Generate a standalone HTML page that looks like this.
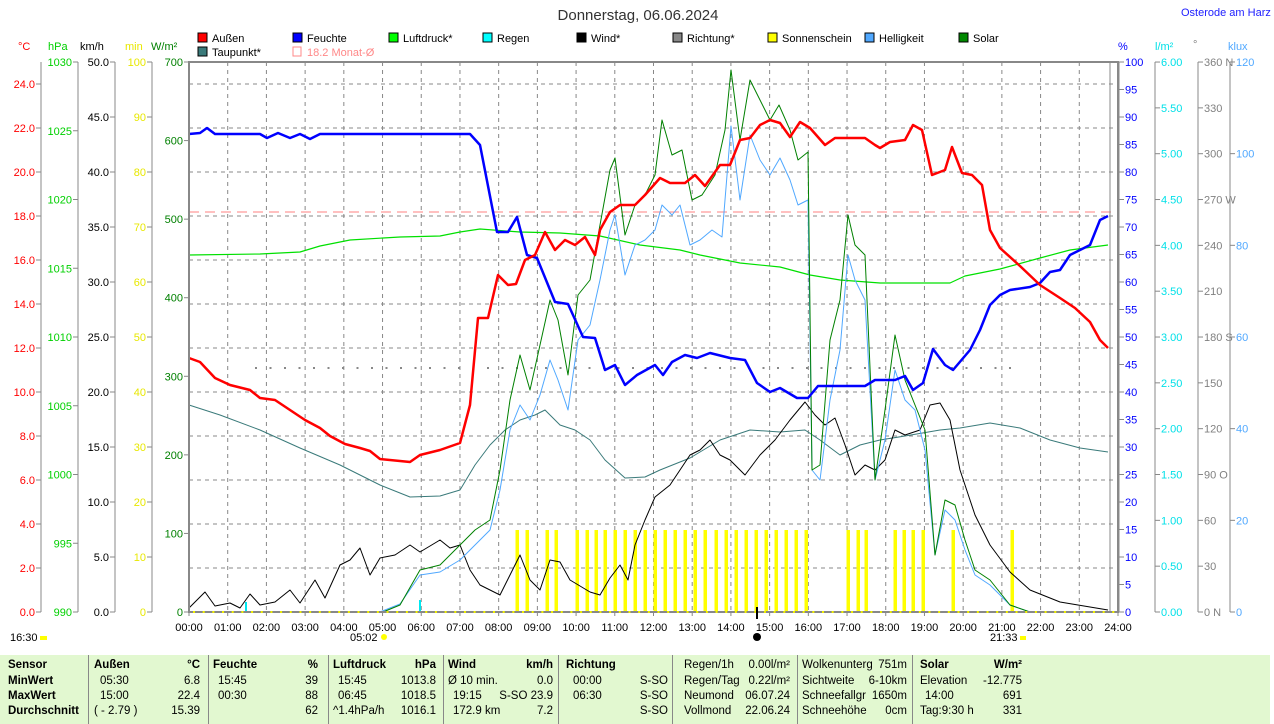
<!DOCTYPE html>
<html><head><meta charset="utf-8"><style>
body{margin:0;background:#fff;width:1274px;height:724px;overflow:hidden;font-family:"Liberation Sans",sans-serif}
svg{position:absolute;left:0;top:0}
text{font-family:"Liberation Sans",sans-serif;font-size:11px}
#tbl{position:absolute;left:0;top:655px;width:1270px;height:69px;background:#e2f8d0;font-size:11.5px}
#tbl div{position:absolute;white-space:nowrap}
.b{font-weight:bold}
.sep{position:absolute;top:0;width:1px;height:69px;background:#888}
</style></head><body>
<svg id="s" width="1274" height="655" xmlns="http://www.w3.org/2000/svg"></svg>
<div id="tbl"></div>
<script>
var s=document.getElementById('s'),h='';
function X(t){return 189+t*38.708}
function ln(a,b,c,d,col,w,da){h+='<line x1="'+a+'" y1="'+b+'" x2="'+c+'" y2="'+d+'" stroke="'+col+'" stroke-width="'+(w||1)+'"'+(da?' stroke-dasharray="'+da+'"':'')+'/>';}
function tx(x,y,t,col,anc,sz){h+='<text x="'+x+'" y="'+y+'" fill="'+col+'" text-anchor="'+(anc||'start')+'"'+(sz?' style="font-size:'+sz+'px"':'')+'>'+t+'</text>';}
function pl(p,col,w){h+='<polyline fill="none" stroke="'+col+'" stroke-width="'+w+'" stroke-linejoin="round" points="'+p.map(function(q){return q.join(',')}).join(' ')+'"/>';}
for(var i=1;i<24;i++)ln(X(i),62,X(i),612,'#888',1,'4,4');
for(var y=84;y<612;y+=44)ln(189,y,1118,y,'#888',1,'4,4');
ln(189,212,1118,212,'#ff8080',1,'10,6');
for(var x=255;x<1020;x+=14.5)h+='<rect x="'+x+'" y="367" width="2" height="2" fill="#888"/>';
[517,527,547,556,577,587,596,605,615,625,635,645,655,665,675,685,695,705,716,726,736,746,756,766,776,786,796,806,848,858,866,895,904,913,923,953,1012].forEach(function(x){h+='<rect x="'+(x-1.5)+'" y="530" width="3.5" height="82" fill="#ffff00"/>'});
h+='<rect x="245" y="602" width="2" height="10" fill="#00e8f0"/><rect x="419" y="600" width="2" height="12" fill="#00e8f0"/>';
pl([[189,255],[260,254],[300,252],[320,246],[350,240],[400,237],[440,236],[460,232],[480,229],[520,232],[560,233],[600,236],[640,245],[680,250],[700,255],[740,263],[780,267],[810,275],[840,280],[880,283],[950,283],[965,276],[1000,269],[1040,258],[1070,250],[1108,245]],'#00e000',1.2);
pl([[189,405],[220,415],[260,430],[300,448],[340,465],[380,485],[410,497],[440,496],[460,490],[475,465],[490,445],[505,430],[520,420],[535,415],[545,410],[560,425],[575,430],[590,440],[605,460],[625,478],[645,477],[660,470],[690,458],[720,440],[750,430],[780,432],[805,430],[820,440],[840,455],[860,445],[880,440],[905,436],[940,430],[960,428],[990,423],[1020,428],[1050,440],[1080,448],[1108,452]],'#3a7a7a',1);
pl([[189,608],[205,592],[215,606],[230,603],[240,608],[250,594],[260,605],[275,602],[290,590],[300,603],[315,580],[325,598],[340,565],[350,560],[360,548],[370,575],[380,558],[395,555],[410,545],[420,552],[440,540],[450,548],[460,545],[470,570],[480,585],[500,595],[510,575],[520,555],[530,580],[540,590],[550,560],[560,562],[570,580],[590,592],[600,595],[610,578],[620,565],[628,580],[635,545],[645,520],[655,497],[670,485],[680,470],[690,455],[700,450],[710,440],[720,455],[730,460],[745,475],[760,455],[775,440],[790,420],[805,402],[815,415],[825,425],[835,418],[845,445],[855,475],[865,465],[875,470],[885,460],[895,430],[905,435],[920,430],[930,405],[940,403],[950,420],[960,470],[975,515],[990,545],[1010,572],[1030,590],[1060,602],[1090,607],[1108,610]],'#000',1);
pl([[189,612],[380,612],[400,604],[420,575],[440,572],[460,560],[475,545],[490,530],[500,490],[510,430],[520,405],[530,420],[540,395],[550,360],[558,380],[568,410],[578,340],[590,325],[600,280],[610,230],[615,215],[625,275],[635,245],[645,240],[655,230],[662,205],[672,215],[680,205],[690,245],[700,240],[712,230],[722,237],[731,126],[740,200],[750,135],[760,160],[770,175],[780,158],[790,180],[798,205],[808,200],[812,470],[820,480],[830,400],[840,350],[848,255],[855,280],[865,300],[875,480],[885,440],[895,370],[905,400],[915,410],[925,450],[935,555],[945,510],[955,520],[965,550],[975,575],[990,585],[1010,605],[1030,612]],'#50a8ff',1);
pl([[189,612],[383,612],[400,605],[420,570],[440,565],[460,545],[475,530],[490,520],[500,470],[510,400],[520,355],[530,390],[540,345],[550,300],[558,320],[568,375],[578,295],[590,280],[600,225],[610,170],[615,158],[625,235],[635,205],[645,195],[655,175],[662,120],[672,155],[682,150],[692,200],[702,195],[715,175],[725,130],[731,70],[740,140],[750,80],[760,100],[770,120],[779,105],[790,130],[798,160],[808,152],[812,470],[820,465],[830,340],[840,300],[848,215],[855,245],[865,255],[875,480],[885,410],[895,335],[905,380],[915,405],[925,430],[935,555],[945,500],[955,505],[965,540],[975,570],[990,580],[1010,605],[1030,612]],'#008000',1);
pl([[189,134],[200,133],[207,128],[215,134],[260,134],[267,138],[278,133],[290,138],[300,134],[310,139],[320,134],[470,134],[480,145],[497,232],[508,232],[517,217],[527,255],[537,258],[555,302],[568,304],[583,337],[595,338],[605,370],[615,365],[625,385],[637,375],[655,365],[663,375],[672,362],[685,355],[697,358],[710,353],[730,358],[745,360],[757,383],[770,392],[780,388],[797,398],[808,398],[818,386],[865,386],[875,380],[895,380],[905,376],[913,390],[923,383],[933,349],[945,365],[953,370],[970,350],[980,330],[990,305],[1000,295],[1010,290],[1030,287],[1040,283],[1050,272],[1060,270],[1070,255],[1090,245],[1100,220],[1108,216]],'#0000ff',2.5);
pl([[189,358],[200,362],[215,378],[230,385],[250,390],[260,398],[275,400],[290,410],[305,420],[320,428],[330,436],[345,444],[360,448],[370,451],[380,459],[400,461],[410,462],[420,455],[440,450],[460,443],[470,405],[478,318],[488,318],[498,275],[508,285],[516,284],[525,260],[535,255],[545,232],[555,250],[565,240],[575,245],[585,237],[595,255],[600,230],[610,212],[620,205],[635,205],[645,195],[660,178],[670,183],[685,183],[695,175],[705,186],[720,165],[730,165],[740,140],[750,138],[760,125],[770,120],[780,123],[790,137],[800,122],[810,128],[825,145],[835,138],[865,138],[875,145],[880,148],[890,142],[905,140],[913,125],[922,130],[932,175],[945,170],[952,147],[962,173],[972,175],[982,185],[990,230],[1000,248],[1020,266],[1040,285],[1060,298],[1075,308],[1090,322],[1100,340],[1108,348]],'#ff0000',2.5);
h+='<rect x="189" y="62" width="929" height="550" fill="none" stroke="#888" stroke-width="2"/>';
ln(1110,62,1110,612,'#888',1);
for(i=0;i<=24;i++){var lb=(i<10?'0':'')+i+':00';tx(X(i),631,lb,'#000','middle');ln(X(i),612,X(i),616,'#888');}
for(i=0;i<96;i++)h+='<rect x="'+(X(i/4)+4)+'" y="611" width="2" height="2" fill="#ee0"/>';
tx(10,641,'16:30','#000');h+='<rect x="40" y="636" width="7" height="4" fill="#ff0"/>';
tx(350,641,'05:02','#000');h+='<circle cx="384" cy="637" r="3" fill="#ff0"/>';
tx(990,641,'21:33','#000');h+='<rect x="1020" y="636" width="6" height="4" fill="#ff0"/>';
h+='<circle cx="757" cy="637" r="4" fill="#000"/><rect x="756" y="607" width="2" height="12" fill="#000"/>';
function axL(lx,n,step,lab,col){ln(lx,62,lx,612,'#888');for(var k=0;k<=n;k++){var yy=612-k*step;if(yy<62)break;ln(lx-5,yy,lx,yy,'#888');tx(lx-6,yy+4,lab(k),col,'end');}}
axL(41,12,44,function(k){return (k*2).toFixed(1)},'#ff0000');
axL(78,8,68.75,function(k){return 990+k*5},'#00d000');
axL(115,10,55,function(k){return (k*5).toFixed(1)},'#000');
axL(152,10,55,function(k){return k*10},'#e8e800');
for(k=0;k<=7;k++){var yy=612-k*78.57;ln(184,yy,189,yy,'#888');tx(183,yy+4,k*100,'#008000','end');}
tx(18,50,'°C','#ff0000');tx(48,50,'hPa','#00d000');tx(80,50,'km/h','#000');tx(125,50,'min','#e8e800');tx(151,50,'W/m²','#008000');
function axR(lx,n,step,lab,col){ln(lx,62,lx,612,'#888');for(var k=0;k<=n;k++){var yy=612-k*step;ln(lx,yy,lx+5,yy,'#888');tx(lx+6,yy+4,lab(k),col);}}
axR(1119,20,27.5,function(k){return k*5},'#0000ff');
axR(1155,12,45.83,function(k){return (k*0.5).toFixed(2)},'#00e0e8');
var dd={0:'0 N',3:'90 O',6:'180 S',9:'270 W',12:'360 N'};
axR(1198,12,45.83,function(k){return dd[k]||k*30},'#808080');
axR(1230,6,91.67,function(k){return k*20},'#50a8ff');
tx(1118,50,'%','#0000ff');tx(1155,50,'l/m²','#00e0e8');tx(1193,48,'°','#808080');tx(1228,50,'klux','#50a8ff');
tx(638,20,'Donnerstag, 06.06.2024','#333','middle',15);
tx(1181,16,'Osterode am Harz','#2020ff');
var L=[[198,'#f00','Außen'],[293,'#00f','Feuchte'],[389,'#0f0','Luftdruck*'],[483,'#0ff','Regen'],[577,'#000','Wind*'],[673,'#888','Richtung*'],[768,'#ff0','Sonnenschein'],[865,'#50a8ff','Helligkeit'],[959,'#080','Solar']];
L.forEach(function(l){h+='<rect x="'+l[0]+'" y="33" width="9" height="9" fill="'+l[1]+'" stroke="#000"/>';tx(l[0]+14,42,l[2],'#000');});
h+='<rect x="198" y="47" width="9" height="9" fill="#3a7a7a" stroke="#000"/>';tx(212,56,'Taupunkt*','#000');
h+='<rect x="293" y="47" width="8" height="9" fill="none" stroke="#f88"/>';tx(307,56,'18.2 Monat-Ø','#f88');
s.innerHTML=h;
var t='',T=document.getElementById('tbl');
function c(x,y,txt,b,r){t+='<div class="'+(b?'b':'')+'" style="'+(r?'right:'+(1270-x)+'px':'left:'+x+'px')+';top:'+y+'px">'+txt+'</div>';}
[88,208,328,443,558,672,797,912].forEach(function(x){t+='<div class="sep" style="left:'+x+'px"></div>'});
var R=[4,20,35,50];
c(8,R[0],'Sensor',1);c(8,R[1],'MinWert',1);c(8,R[2],'MaxWert',1);c(8,R[3],'Durchschnitt',1);
c(94,R[0],'Außen',1);c(200,R[0],'°C',1,1);c(100,R[1],'05:30');c(200,R[1],'6.8',0,1);c(100,R[2],'15:00');c(200,R[2],'22.4',0,1);c(94,R[3],'( - 2.79 )');c(200,R[3],'15.39',0,1);
c(213,R[0],'Feuchte',1);c(318,R[0],'%',1,1);c(218,R[1],'15:45');c(318,R[1],'39',0,1);c(218,R[2],'00:30');c(318,R[2],'88',0,1);c(318,R[3],'62',0,1);
c(333,R[0],'Luftdruck',1);c(436,R[0],'hPa',1,1);c(338,R[1],'15:45');c(436,R[1],'1013.8',0,1);c(338,R[2],'06:45');c(436,R[2],'1018.5',0,1);c(333,R[3],'^1.4hPa/h');c(436,R[3],'1016.1',0,1);
c(448,R[0],'Wind',1);c(553,R[0],'km/h',1,1);c(448,R[1],'Ø 10 min.');c(553,R[1],'0.0',0,1);c(453,R[2],'19:15');c(553,R[2],'S-SO 23.9',0,1);c(453,R[3],'172.9 km');c(553,R[3],'7.2',0,1);
c(566,R[0],'Richtung',1);c(573,R[1],'00:00');c(573,R[2],'06:30');c(668,R[1],'S-SO',0,1);c(668,R[2],'S-SO',0,1);c(668,R[3],'S-SO',0,1);
c(684,R[0],'Regen/1h');c(790,R[0],'0.00l/m²',0,1);c(684,R[1],'Regen/Tag');c(790,R[1],'0.22l/m²',0,1);c(684,R[2],'Neumond');c(790,R[2],'06.07.24',0,1);c(684,R[3],'Vollmond');c(790,R[3],'22.06.24',0,1);
c(802,R[0],'Wolkenunterg');c(907,R[0],'751m',0,1);c(802,R[1],'Sichtweite');c(907,R[1],'6-10km',0,1);c(802,R[2],'Schneefallgr');c(907,R[2],'1650m',0,1);c(802,R[3],'Schneehöhe');c(907,R[3],'0cm',0,1);
c(920,R[0],'Solar',1);c(1022,R[0],'W/m²',1,1);c(920,R[1],'Elevation');c(1022,R[1],'-12.775',0,1);c(925,R[2],'14:00');c(1022,R[2],'691',0,1);c(920,R[3],'Tag:9:30 h');c(1022,R[3],'331',0,1);
T.innerHTML=t;
</script>
</body></html>
